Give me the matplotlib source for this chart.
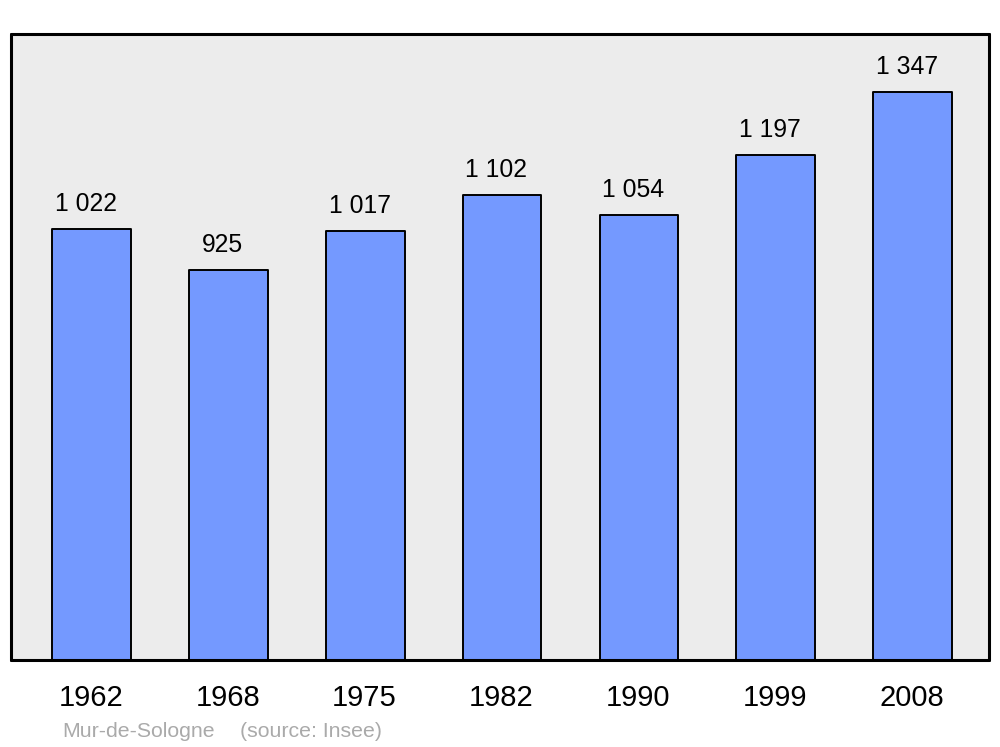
import matplotlib.pyplot as plt
import numpy as np

years = ['1962', '1968', '1975', '1982', '1990', '1999', '2008']
population = [1022, 925, 1017, 1102, 1054, 1197, 1347]
value_labels = ['1 022', '925', '1 017', '1 102', '1 054', '1 197', '1 347']

plt.rcParams['font.family'] = ['Liberation Sans', 'DejaVu Sans']

fig = plt.figure(figsize=(10, 7.47), dpi=100)
ax = fig.add_axes([0.011, 0.1165, 0.978, 0.838])
ax.set_facecolor('#ececec')

index = np.arange(len(years))
bars = ax.bar(index + 0.005, population, 0.575, color='#7499ff',
              edgecolor='black', linewidth=1.4, joinstyle='round', zorder=2)

for i, v in enumerate(population):
    ax.annotate(value_labels[i], (index[i], v), xytext=(-3.6, 13),
                textcoords='offset points', ha='center', va='baseline',
                fontsize=17.8)

ax.set_xlim(-0.585, 6.565)
ax.set_ylim(0, 1484)
ax.set_yticks([])
ax.set_xticks(index)
ax.set_xticklabels(years, fontsize=21)
ax.tick_params(axis='x', length=0, pad=17.5)

for s in ax.spines.values():
    s.set_linewidth(2.2)
    s.set_capstyle('round')
    s.set_joinstyle('round')

fig.text(0.062, 0.0135, 'Mur-de-Sologne', color='#aaaaaa', fontsize=15.3)
fig.text(0.240, 0.0135, '(source: Insee)', color='#aaaaaa', fontsize=15.3)

fig.savefig('out.png', dpi=100, facecolor='white')
